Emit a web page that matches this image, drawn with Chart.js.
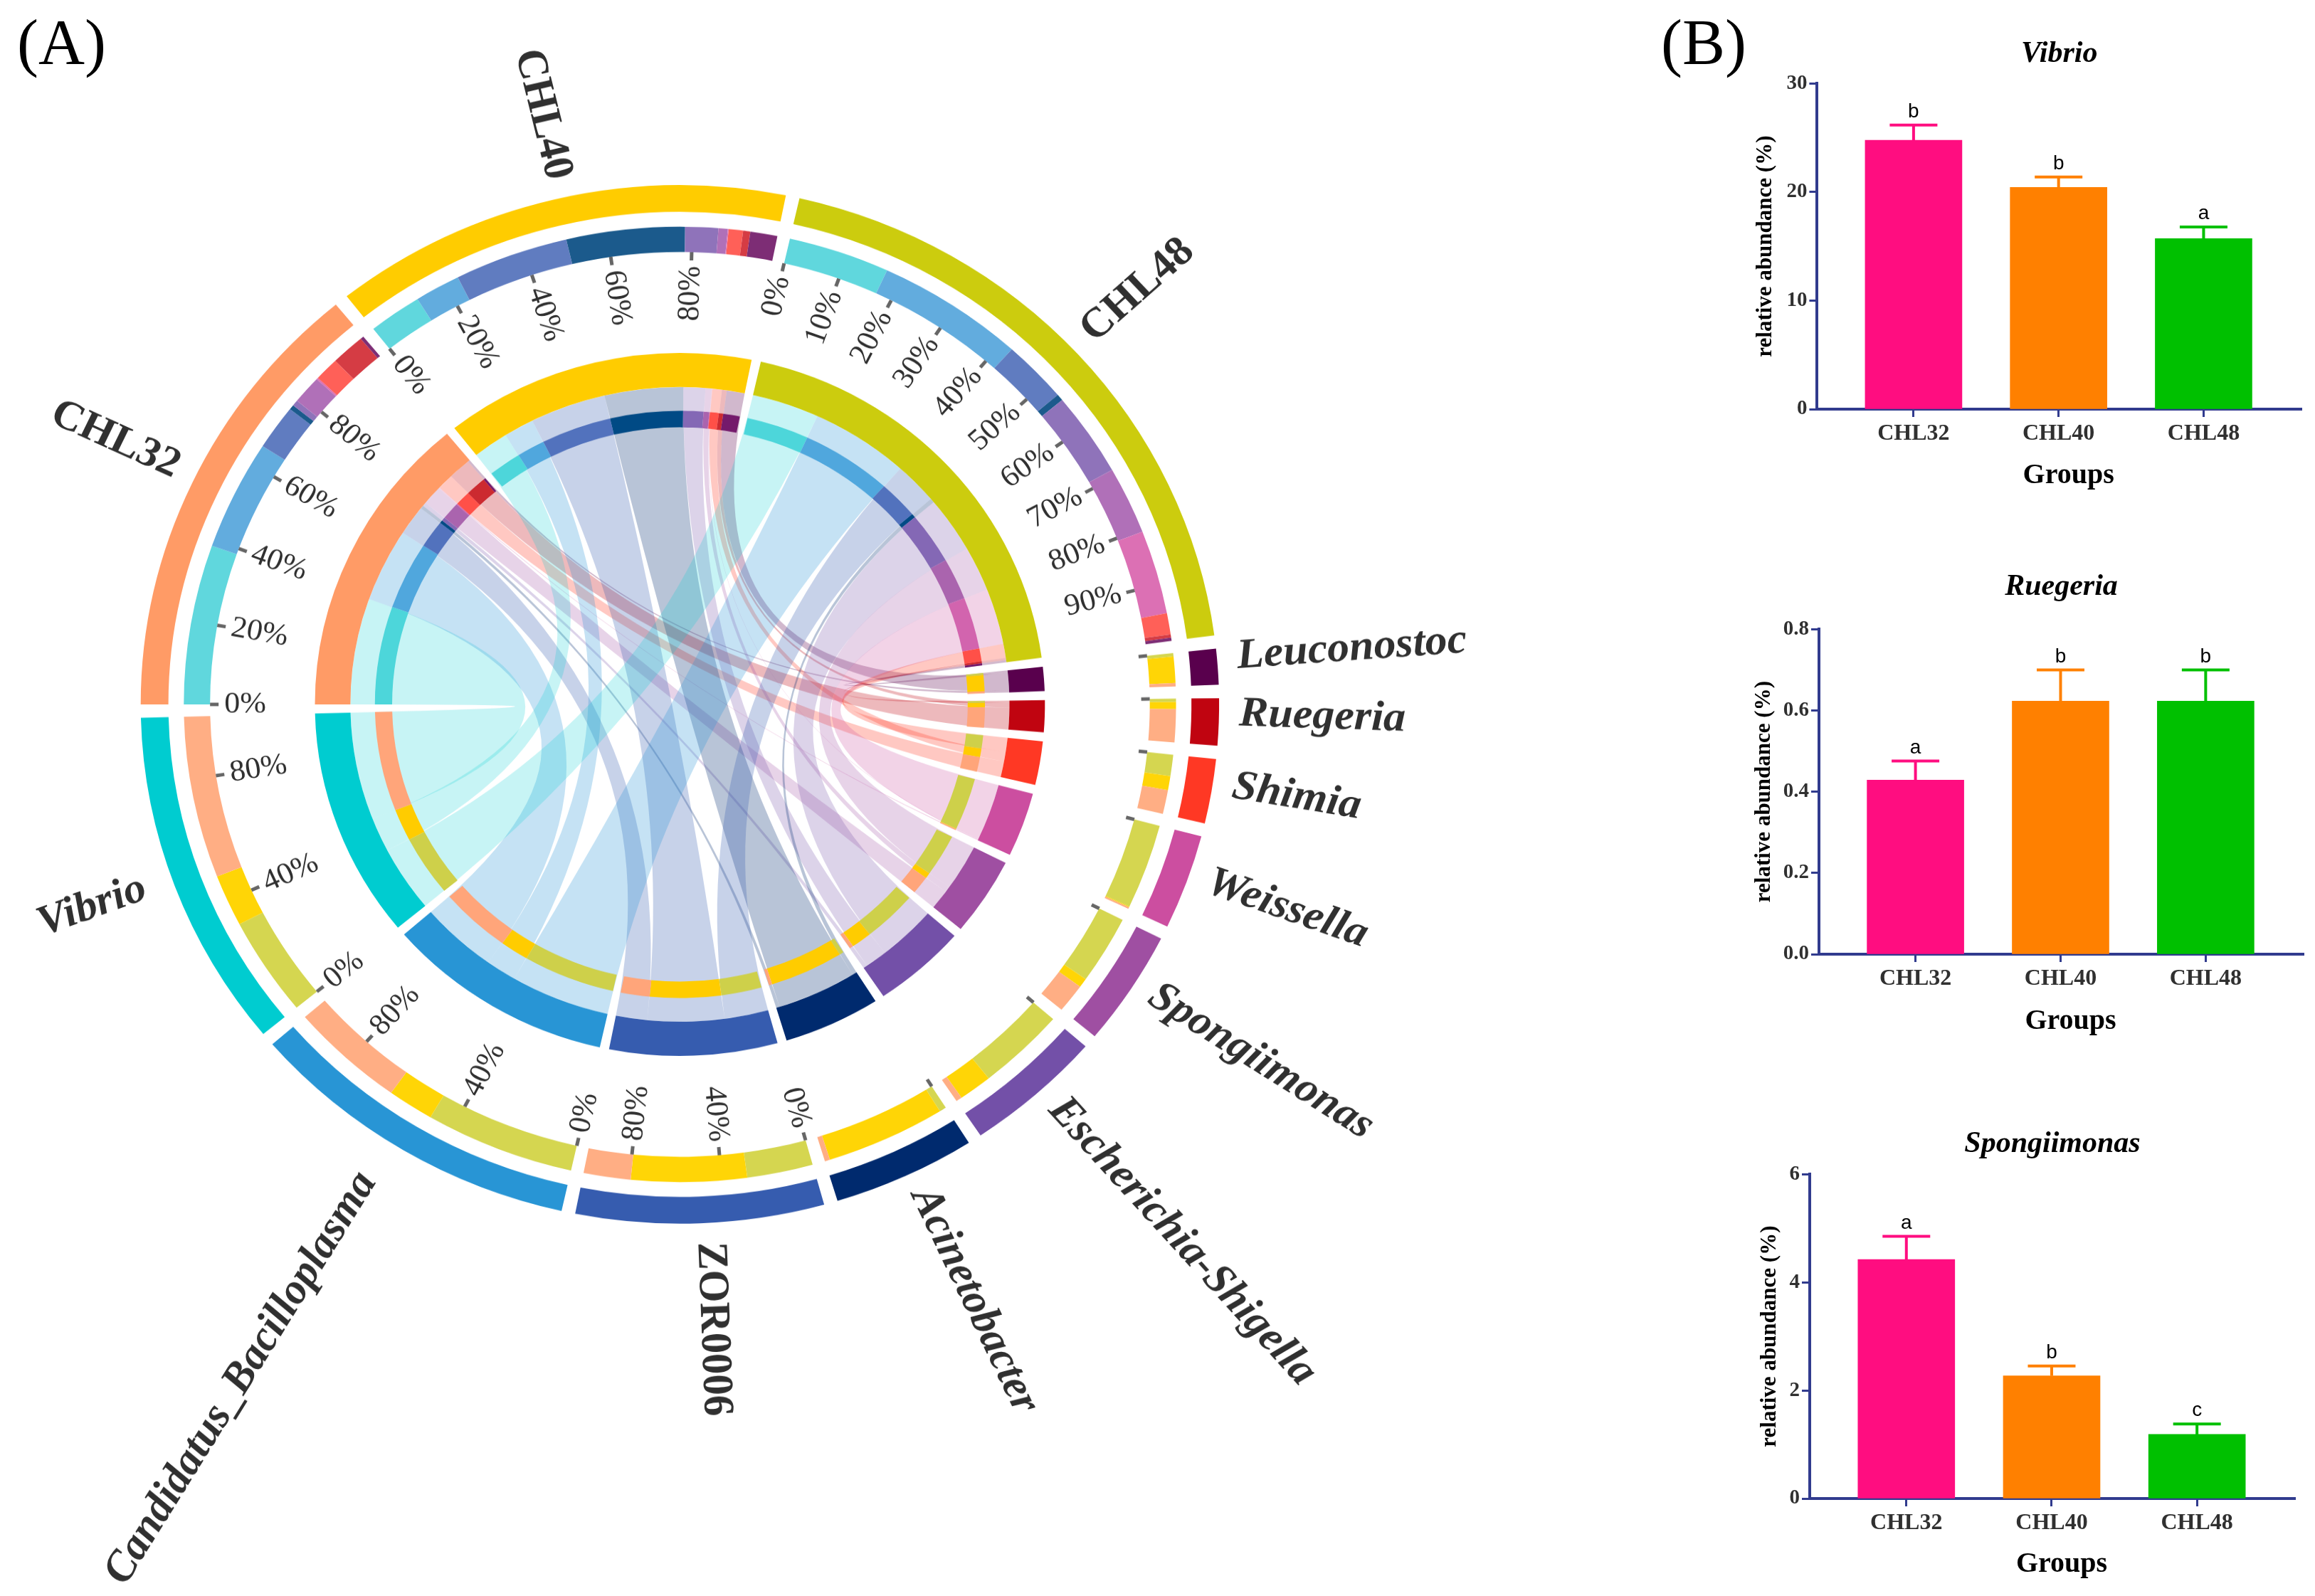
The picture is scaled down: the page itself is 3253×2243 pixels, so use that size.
<!DOCTYPE html>
<html>
<head>
<meta charset="utf-8">
<title>Chord and bars</title>
<script src="https://cdn.jsdelivr.net/npm/chart.js@4/dist/chart.umd.min.js"></script>
<style>
html, body { margin: 0; padding: 0; background: #fff; width: 3253px; height: 2243px; overflow: hidden; }
canvas { position: absolute; display: block; }
#chordBox { position: absolute; left: 0; top: 0; width: 2330px; height: 2329px; transform-origin: 0 0; transform: scaleY(0.963); }
.panel { position: absolute; font: 90px "Liberation Serif", serif; color: #000; line-height: 1; }
</style>
</head>
<body>
<div class="panel" style="left:24px;top:15px">(A)</div>
<div class="panel" style="left:2334px;top:15px">(B)</div>
<div id="chordBox"><canvas id="chordChart" width="2330" height="2329"></canvas></div>
<canvas id="vibrioChart" style="left:2400px;top:48px" width="853" height="652"></canvas>
<canvas id="ruegeriaChart" style="left:2400px;top:797px" width="853" height="669"></canvas>
<canvas id="spongiiChart" style="left:2400px;top:1580px" width="853" height="651"></canvas>
<script>
// Panel A data: flow of each genus into [CHL32, CHL40, CHL48]
const groups = ['CHL32', 'CHL40', 'CHL48'];
const genera = ['Vibrio', 'Candidatus_Bacilloplasma', 'ZOR0006', 'Acinetobacter', 'Escherichia-Shigella',
    'Spongiimonas', 'Weissella', 'Shimia', 'Ruegeria', 'Leuconostoc'];
const vibrioFlow = [19.6, 6.3, 12.0];
const candidatusFlow = [13.5, 5.4, 17.5];
const zorFlow = [5.5, 13.5, 7.7];
const acinetobacterFlow = [0.6, 14.0, 0.8];
const escherichiaFlow = [0.7, 3.9, 10.3];
const spongiimonasFlow = [3.5, 1.1, 8.3];
const weissellaFlow = [0.2, 0.1, 10.3];
const shimiaFlow = [2.9, 1.7, 2.6];
const ruegeriaFlow = [4.0, 0.85, 0.4];
const leuconostocFlow = [0.4, 3.2, 0.4];
const flows = [vibrioFlow, candidatusFlow, zorFlow, acinetobacterFlow, escherichiaFlow,
    spongiimonasFlow, weissellaFlow, shimiaFlow, ruegeriaFlow, leuconostocFlow];

// Degrees of the circle taken by the group half and the genus half
const groupHalf = 169.4;
const genusHalf = 171.4;

// Ticks around the rings, in percent of each sector
const groupTicks = [0, 20, 40, 60, 80];
const chl48Ticks = [0, 10, 20, 30, 40, 50, 60, 70, 80, 90];
const genusTicks = [0, 40, 80];

// Panel B data
const vibrioVals = [24.77, 20.42, 15.7];
const vibrioErr = [26.16, 21.38, 16.78];
const vibrioLetters = ['b', 'b', 'a'];
const ruegeriaVals = [0.4286, 0.623, 0.623];
const ruegeriaErr = [0.4754, 0.6995, 0.6995];
const ruegeriaLetters = ['a', 'b', 'b'];
const spongiiVals = [4.42, 2.27, 1.186];
const spongiiErr = [4.85, 2.45, 1.378];
const spongiiLetters = ['a', 'b', 'c'];

// Colours
const groupColors = ['#ff9b66', '#ffcc00', '#cccc0e'];
const groupLight = ['#ffae84', '#ffd506', '#d5d650'];
const groupInner = ['#ffa57a', '#ffcc00', '#ced04a'];
const genusColors = ['#00ccd0', '#2895d5', '#365caf', '#002a6e', '#7350a8', '#9f4fa2', '#cc4ea0', '#ff3824', '#c00410', '#59004d'];
const genusLight = ['#60d7dd', '#62acde', '#607cc0', '#1b5a8c', '#8f73ba', '#b070b8', '#dc70b4', '#ff6058', '#d53c44', '#7d2d75'];
const genusInner = ['#4dd6da', '#50a7dd', '#5272bd', '#004a85', '#8468b5', '#aa64ae', '#d264ae', '#ff5048', '#cc2a30', '#741a6b'];
const ribbonColors = ['#00ccd038', '#2895d545', '#365caf47', '#002a6e47', '#7350a840', '#9f4fa240', '#cc4ea040', '#ff382447', '#c0041047', '#59004d47'];
const barColors = ['#ff0d80', '#ff8000', '#00c000'];
const axisColor = '#313b8e';
const textColor = '#303030';

// Sector names that sit further out or higher than the rest
const nameShift = { 'Candidatus_Bacilloplasma': { out: 30, lift: 24 }, 'Vibrio': { out: 12, lift: 12 } };

const total = flows.reduce((s, f) => s + f[0] + f[1] + f[2], 0);
const groupScale = groupHalf / total;
const genusScale = genusHalf / total;
const gap = (360 - groupHalf - genusHalf) / (groups.length + genera.length);
const genusOrder = genera.map((g, i) => genera.length - 1 - i); // Leuconostoc ... Vibrio clockwise
const groupOrderInGenus = [2, 1, 0];

// Build the doughnut rings
const sectorData = [], sectorFill = [], sectorNames = [], sectorTicks = [];
const subData = [], subLight = [], subInner = [];
const groupSeg = {}, genusSeg = {};

groups.forEach((name, g) => {
    sectorData.push(flows.reduce((s, f) => s + f[g], 0) * groupScale, gap);
    sectorFill.push(groupColors[g], 'transparent');
    sectorNames.push(name);
    sectorTicks.push(name === 'CHL48' ? chl48Ticks : groupTicks);
    flows.forEach((f, j) => {
        groupSeg[g + '_' + j] = subData.length;
        subData.push(f[g] * groupScale);
        subLight.push(genusLight[j]);
        subInner.push(genusInner[j]);
    });
    subData.push(gap);
    subLight.push('transparent');
    subInner.push('transparent');
});
genusOrder.forEach(j => {
    sectorData.push((flows[j][0] + flows[j][1] + flows[j][2]) * genusScale, gap);
    sectorFill.push(genusColors[j], 'transparent');
    sectorNames.push(genera[j]);
    sectorTicks.push(j < 3 ? genusTicks : [0]);
    groupOrderInGenus.forEach(g => {
        genusSeg[g + '_' + j] = subData.length;
        subData.push(flows[j][g] * genusScale);
        subLight.push(groupLight[g]);
        subInner.push(groupInner[g]);
    });
    subData.push(gap);
    subLight.push('transparent');
    subInner.push('transparent');
});

function ring(data, colors, weight) {
    return { data: data, backgroundColor: colors, weight: weight, borderWidth: 0, hoverOffset: 0 };
}

// Ribbons sit under the rings
const ribbonsPlugin = {
    id: 'ribbons',
    beforeDatasetsDraw(chart) {
        const ctx = chart.ctx;
        const meta = chart.getDatasetMeta(2).data;
        const first = chart.getDatasetMeta(4).data[0];
        const cx = first.x, cy = first.y, r = first.innerRadius;
        ctx.save();
        groups.forEach((name, g) => {
            genera.forEach((gen, j) => {
                const a = meta[groupSeg[g + '_' + j]];
                const b = meta[genusSeg[g + '_' + j]];
                ctx.beginPath();
                ctx.arc(cx, cy, r, a.startAngle, a.endAngle);
                ctx.quadraticCurveTo(cx, cy, cx + r * Math.cos(b.startAngle), cy + r * Math.sin(b.startAngle));
                ctx.arc(cx, cy, r, b.startAngle, b.endAngle);
                ctx.quadraticCurveTo(cx, cy, cx + r * Math.cos(a.startAngle), cy + r * Math.sin(a.startAngle));
                ctx.closePath();
                ctx.fillStyle = ribbonColors[j];
                ctx.fill();
            });
        });
        ctx.restore();
    }
};

function radialText(ctx, cx, cy, angle, r, text, inward, lift) {
    const right = Math.cos(angle) > 0;
    ctx.save();
    ctx.translate(cx + r * Math.cos(angle), cy + r * Math.sin(angle));
    ctx.rotate(right ? angle : angle + Math.PI);
    ctx.textBaseline = 'middle';
    ctx.textAlign = (right === inward) ? 'right' : 'left';
    ctx.fillText(text, 0, -lift);
    ctx.restore();
}

// Tick marks, percent labels, sector names
const labelsPlugin = {
    id: 'ringLabels',
    afterDatasetsDraw(chart) {
        const ctx = chart.ctx;
        const sectors = chart.getDatasetMeta(0).data;
        const second = chart.getDatasetMeta(2).data[0];
        const cx = second.x, cy = second.y, rIn = second.innerRadius;
        sectorNames.forEach((name, s) => {
            const arc = sectors[s * 2];
            const span = arc.endAngle - arc.startAngle;
            sectorTicks[s].forEach(p => {
                const a = arc.startAngle + span * p / 100;
                ctx.strokeStyle = '#666';
                ctx.lineWidth = 5;
                ctx.beginPath();
                ctx.moveTo(cx + rIn * Math.cos(a), cy + rIn * Math.sin(a));
                ctx.lineTo(cx + (rIn - 12) * Math.cos(a), cy + (rIn - 12) * Math.sin(a));
                ctx.stroke();
                if (sectorTicks[s].length > 1) {
                    ctx.fillStyle = textColor;
                    ctx.font = '44px "Liberation Serif"';
                    radialText(ctx, cx, cy, a, rIn - 20, p + '%', true, 0);
                }
            });
            const isPlain = name.startsWith('CHL') || name === 'ZOR0006';
            const shift = nameShift[name] || { out: 0, lift: 12 };
            ctx.font = (isPlain ? 'bold 61px' : 'italic bold 62px') + ' "Liberation Serif"';
            ctx.fillStyle = textColor;
            radialText(ctx, cx, cy, (arc.startAngle + arc.endAngle) / 2, arc.outerRadius + 28 + shift.out, name, false, shift.lift);
        });
    }
};

new Chart(document.getElementById('chordChart'), {
    type: 'doughnut',
    data: {
        datasets: [
            ring(sectorData, sectorFill, 39),
            ring([1], ['transparent'], 21.7),
            ring(subData, subLight, 37),
            ring([1], ['transparent'], 147.7),
            ring(sectorData, sectorFill, 50),
            ring([1], ['transparent'], 34.5),
            ring(subData, subInner, 24.3)
        ]
    },
    options: {
        responsive: false,
        animation: false,
        devicePixelRatio: 1,
        rotation: 270,
        radius: 757.7,
        cutout: '53.37%',
        layout: { padding: { right: 419.2, bottom: 273 } },
        plugins: { legend: { display: false }, tooltip: { enabled: false } }
    },
    plugins: [ribbonsPlugin, labelsPlugin]
});

// Error bars, letters and the Groups caption of panel B
const errorPlugin = {
    id: 'errorBars',
    afterDatasetsDraw(chart, args, opts) {
        const ctx = chart.ctx;
        const x = chart.scales.x, y = chart.scales.y;
        opts.vals.forEach((v, i) => {
            const px = x.getPixelForValue(i);
            const top = y.getPixelForValue(opts.errs[i]);
            ctx.strokeStyle = barColors[i];
            ctx.lineWidth = 4;
            ctx.beginPath();
            ctx.moveTo(px, y.getPixelForValue(v));
            ctx.lineTo(px, top);
            ctx.moveTo(px - 33.5, top);
            ctx.lineTo(px + 33.5, top);
            ctx.stroke();
            ctx.fillStyle = '#000';
            ctx.font = '28px "Liberation Sans"';
            ctx.textAlign = 'center';
            ctx.textBaseline = 'alphabetic';
            ctx.fillText(opts.letters[i], px, top - 11);
        });
        ctx.fillStyle = '#000';
        ctx.font = 'bold 40px "Liberation Serif"';
        ctx.textAlign = 'center';
        ctx.textBaseline = 'middle';
        ctx.fillText('Groups', (chart.chartArea.left + chart.chartArea.right) / 2 + 13, opts.captionY);
    }
};

function drawBars(id, title, vals, errs, letters, yMax, yStep, decimals, axisLeft, axisRight, titlePad, yTitlePad, captionY) {
    new Chart(document.getElementById(id), {
        type: 'bar',
        data: {
            datasets: [{
                data: vals.map((v, i) => ({ x: i, y: v })),
                backgroundColor: barColors,
                barThickness: 136,
                borderWidth: 0
            }]
        },
        options: {
            responsive: false,
            animation: false,
            devicePixelRatio: 1,
            layout: { padding: { right: axisRight } },
            plugins: {
                legend: { display: false },
                tooltip: { enabled: false },
                title: {
                    display: true,
                    text: title,
                    color: '#000',
                    fullSize: false,
                    font: { family: 'Liberation Serif', size: 42, weight: 'bold', style: 'italic', lineHeight: 1.17 },
                    padding: { top: 4, bottom: titlePad - 4 }
                },
                errorBars: { vals: vals, errs: errs, letters: letters, captionY: captionY }
            },
            scales: {
                x: {
                    type: 'linear',
                    offset: false,
                    min: -0.665,
                    max: 2.675,
                    afterBuildTicks: s => { s.ticks = groups.map((g, i) => ({ value: i })); },
                    afterFit: s => { s.height = 125; },
                    border: { color: axisColor, width: 4 },
                    grid: { offset: false, drawOnChartArea: false, tickLength: 11, tickWidth: 3, tickColor: axisColor },
                    ticks: {
                        autoSkip: false,
                        maxRotation: 0,
                        padding: 5,
                        color: textColor,
                        font: { family: 'Liberation Serif', size: 32, weight: 'bold' },
                        callback: v => groups[v]
                    }
                },
                y: {
                    min: 0,
                    max: yMax,
                    afterFit: s => { s.width = axisLeft; },
                    border: { color: axisColor, width: 4 },
                    grid: { drawOnChartArea: false, tickLength: 11, tickWidth: 3, tickColor: axisColor },
                    ticks: {
                        stepSize: yStep,
                        padding: 3,
                        color: textColor,
                        font: { family: 'Liberation Serif', size: 29, weight: 'bold' },
                        callback: v => v.toFixed(decimals)
                    },
                    title: {
                        display: true,
                        text: 'relative abundance (%)',
                        color: '#000',
                        font: { family: 'Liberation Serif', size: 31, weight: 'bold' },
                        padding: { top: yTitlePad, bottom: 0 }
                    }
                }
            }
        },
        plugins: [errorPlugin]
    });
}

drawBars('vibrioChart', 'Vibrio', vibrioVals, vibrioErr, vibrioLetters, 30, 10, 0, 153.4, 19, 20, 62, 621);
drawBars('ruegeriaChart', 'Ruegeria', ruegeriaVals, ruegeriaErr, ruegeriaLetters, 0.8, 0.2, 1, 156, 16, 38, 60, 639);
drawBars('spongiiChart', 'Spongiimonas', spongiiVals, spongiiErr, spongiiLetters, 6, 2, 0, 143, 28, 21, 68, 619);
</script>
</body>
</html>
